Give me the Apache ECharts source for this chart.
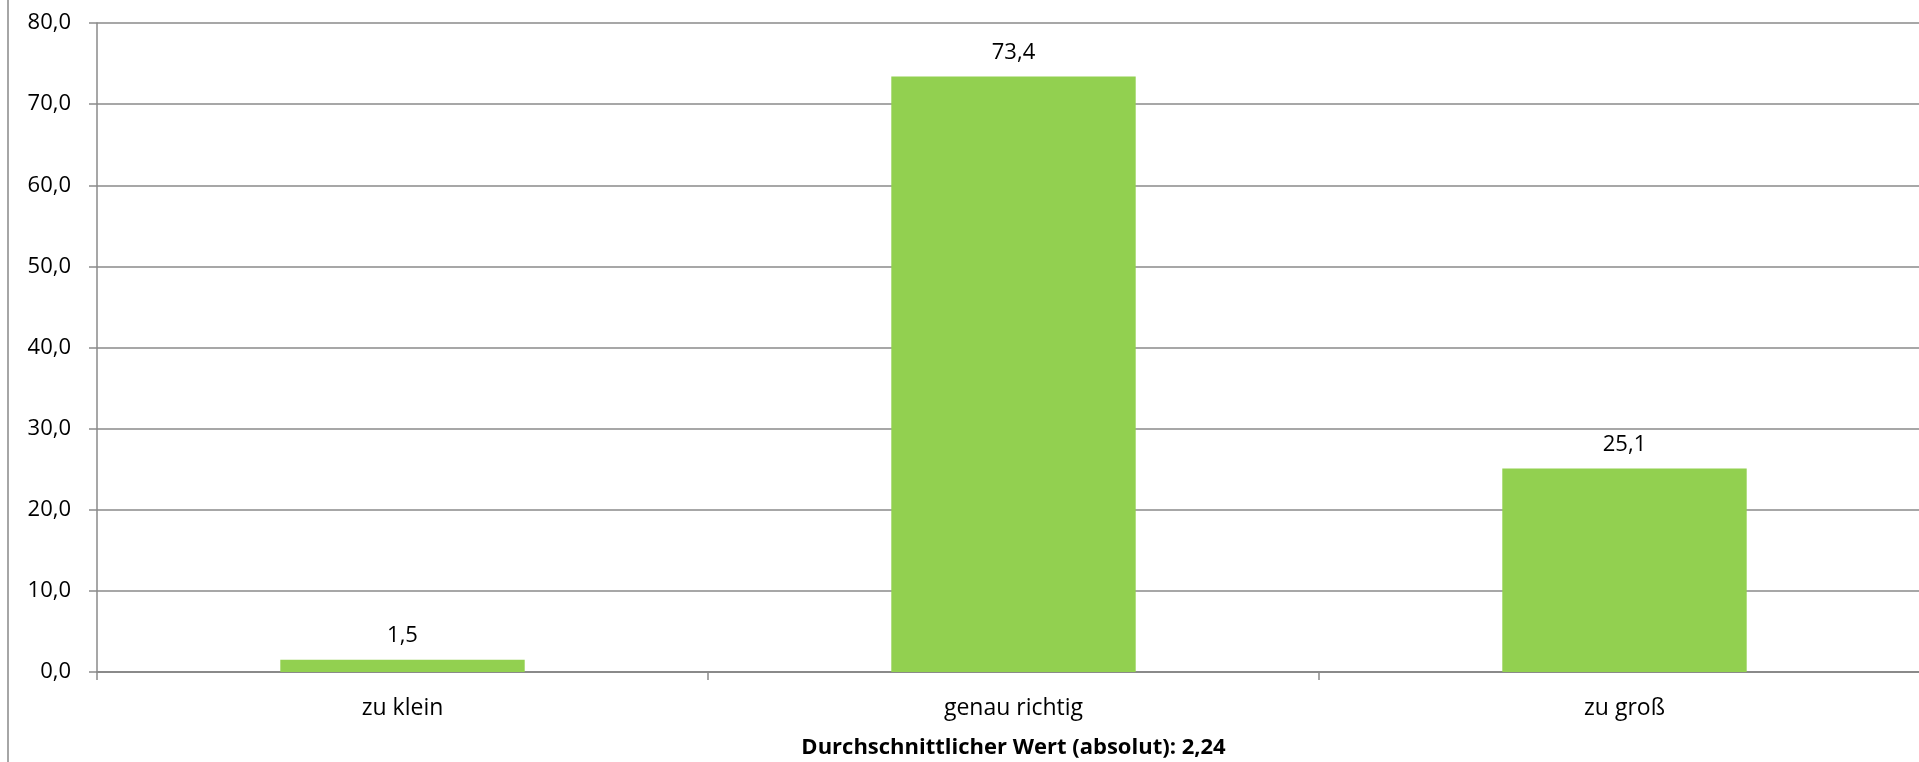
<!DOCTYPE html>
<html>
<head>
<meta charset="utf-8">
<script src="https://cdn.jsdelivr.net/npm/echarts@6/dist/echarts.min.js"></script>
<style>
  html, body { margin: 0; padding: 0; background: #fff; }
  #chart { width: 1919px; height: 762px; }
</style>
</head>
<body>
<div id="chart"></div>
<script>
// Kategorien und Anteile (%)
const categories = ['zu klein', 'genau richtig', 'zu groß'];
const values = [1.5, 73.4, 25.1];
const axisTitle = 'Durchschnittlicher Wert (absolut): 2,24';
const yMin = 0, yMax = 80, yStep = 10;

const fmt = v => Number(v).toFixed(1).replace('.', ',');
const FONT = '"Open Sans", "Noto Sans", sans-serif';
const GRID_COLOR = '#8a8a8a';

const chart = echarts.init(document.getElementById('chart'), null, { renderer: 'canvas' });
chart.setOption({
  animation: false,
  backgroundColor: '#ffffff',
  textStyle: { fontFamily: FONT },
  grid: {
    left: 97, top: 23, width: 1833, height: 649,
    containLabel: false,
    outerBoundsMode: 'none'
  },
  graphic: [{
    type: 'line',
    shape: { x1: 8, y1: 0, x2: 8, y2: 762 },
    style: { stroke: '#a6a6a6', lineWidth: 2 }
  }],
  xAxis: {
    type: 'category',
    data: categories,
    boundaryGap: true,
    axisLine: { show: true, lineStyle: { color: GRID_COLOR, width: 2 } },
    axisTick: { show: true, length: 8, alignWithLabel: false, lineStyle: { color: GRID_COLOR, width: 1.5 } },
    axisLabel: { color: '#000', fontSize: 23, fontFamily: FONT, margin: 25 },
    name: axisTitle,
    nameLocation: 'middle',
    nameGap: 65,
    nameTextStyle: { color: '#000', fontSize: 22, fontWeight: 'bold', fontFamily: FONT }
  },
  yAxis: {
    type: 'value',
    min: yMin,
    max: yMax,
    interval: yStep,
    axisLine: { show: true, lineStyle: { color: GRID_COLOR, width: 1.5 } },
    axisTick: { show: true, length: 8, lineStyle: { color: GRID_COLOR, width: 1.5 } },
    axisLabel: { color: '#000', fontSize: 22, fontFamily: FONT, margin: 26, formatter: v => fmt(v) },
    splitLine: { show: true, lineStyle: { color: GRID_COLOR, width: 1.5 } }
  },
  series: [{
    type: 'bar',
    data: values,
    barWidth: '40%',
    itemStyle: { color: '#92D050' },
    label: {
      show: true,
      position: 'top',
      distance: 13,
      color: '#000',
      fontSize: 22,
      fontFamily: FONT,
      formatter: p => fmt(p.value)
    }
  }]
});
</script>
</body>
</html>
